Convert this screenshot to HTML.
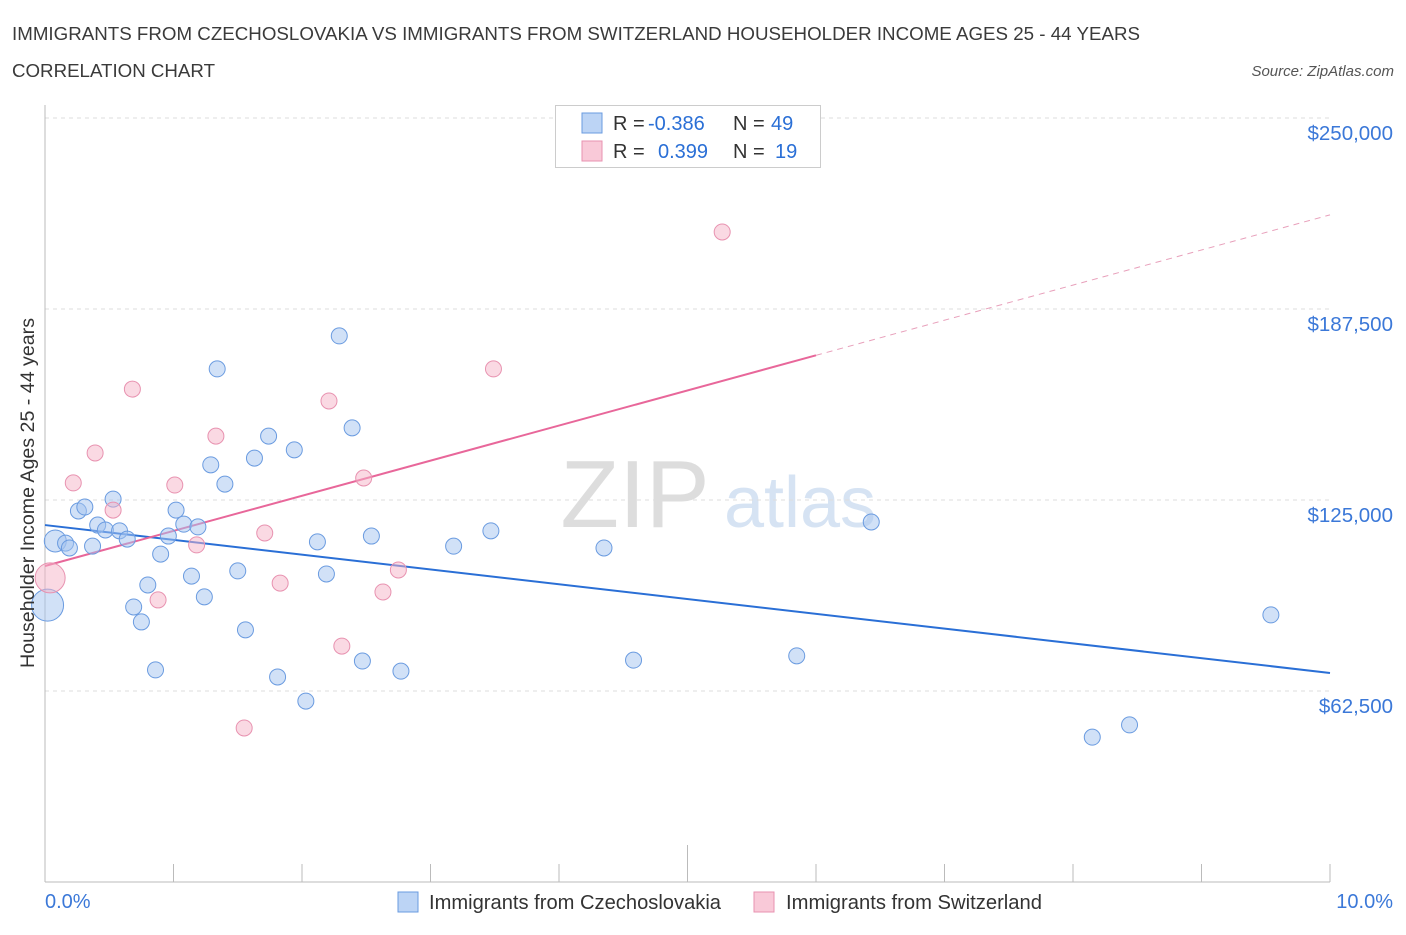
<!DOCTYPE html>
<html><head><meta charset="utf-8"><style>
body{margin:0;background:#fff;font-family:"Liberation Sans",sans-serif;}
svg text{font-family:"Liberation Sans",sans-serif;}
</style></head><body>
<svg id="chart" width="1406" height="930" xmlns="http://www.w3.org/2000/svg">
<text x="12" y="40" font-size="18.5" textLength="1128" lengthAdjust="spacingAndGlyphs" fill="#3a3a3a">IMMIGRANTS FROM CZECHOSLOVAKIA VS IMMIGRANTS FROM SWITZERLAND HOUSEHOLDER INCOME AGES 25 - 44 YEARS</text>
<text x="12" y="77" font-size="18.5" textLength="203" lengthAdjust="spacingAndGlyphs" fill="#3a3a3a">CORRELATION CHART</text>
<text x="1394" y="76" font-size="15" fill="#555" font-style="italic" text-anchor="end">Source: ZipAtlas.com</text>
<text x="635" y="527" font-size="96" fill="#ddd" font-family="Liberation Serif" text-anchor="middle">ZIP</text>
<text x="800" y="527" font-size="72" fill="#d6e3f3" text-anchor="middle">atlas</text>
<g id="grid"></g>
<g id="axes"></g>
<g id="lines"></g>
<g id="points"></g>
<text x="34" y="493" font-size="19" textLength="350" lengthAdjust="spacingAndGlyphs" fill="#333" text-anchor="middle" transform="rotate(-90 34 493)">Householder Income Ages 25 - 44 years</text>
<g>
<rect x="555.5" y="105.5" width="265" height="62" fill="#fff" stroke="#ccc"/>
<rect x="582" y="113" width="20" height="20" fill="#bcd4f5" stroke="#6a9be0"/>
<rect x="582" y="141" width="20" height="20" fill="#f9c9d8" stroke="#e892b0"/>
<text x="613" y="130" font-size="20" fill="#333">R =</text>
<text x="648" y="130" font-size="20" fill="#2a6fd6">-0.386</text>
<text x="733" y="130" font-size="20" fill="#333">N =</text>
<text x="771" y="130" font-size="20" fill="#2a6fd6">49</text>
<text x="613" y="158" font-size="20" fill="#333">R =</text>
<text x="658" y="158" font-size="20" fill="#2a6fd6">0.399</text>
<text x="733" y="158" font-size="20" fill="#333">N =</text>
<text x="775" y="158" font-size="20" fill="#2a6fd6">19</text>
</g>
<g>
<rect x="398" y="892" width="20" height="20" fill="#bcd4f5" stroke="#6a9be0"/>
<text x="429" y="909" font-size="20" textLength="292" lengthAdjust="spacingAndGlyphs" fill="#333">Immigrants from Czechoslovakia</text>
<rect x="754" y="892" width="20" height="20" fill="#f9c9d8" stroke="#e892b0"/>
<text x="786" y="909" font-size="20" textLength="256" lengthAdjust="spacingAndGlyphs" fill="#333">Immigrants from Switzerland</text>
</g>
</svg>
<script>
const yTicks=[62500,125000,187500,250000];
const yTickLabels=["$62,500","$125,000","$187,500","$250,000"];
const xTickLabels=["0.0%","10.0%"];
const blueX=[0.08,0.16,0.19,0.26,0.31,0.37,0.41,0.47,0.53,0.58,0.64,0.69,0.75,0.80,0.86,0.90,0.96,1.02,1.08,1.14,1.19,1.24,1.29,1.34,1.40,1.50,1.56,1.63,1.74,1.81,1.94,2.03,2.12,2.19,2.29,2.39,2.47,2.54,2.77,3.18,3.47,4.35,4.58,5.85,6.43,8.15,8.44,9.54,0.02];
const blueY=[111600,110900,109300,121400,122700,109900,116800,115200,125300,114900,112200,90000,85100,97200,69400,107300,113200,121700,117100,100100,116200,93300,136500,167900,130200,101800,82500,138700,145900,67100,141400,59200,111300,100800,178700,148600,72300,113200,69000,109900,114900,109300,72600,74000,117800,47400,51400,87400,90600];
const blueR=[11,8,8,8,8,8,8,8,8,8,8,8,8,8,8,8,8,8,8,8,8,8,8,8,8,8,8,8,8,8,8,8,8,8,8,8,8,8,8,8,8,8,8,8,8,8,8,8,16];
const pinkX=[0.04,0.22,0.39,0.53,0.68,0.88,1.01,1.18,1.33,1.55,1.71,1.83,2.21,2.31,2.48,2.63,2.75,3.49,5.27];
const pinkY=[99500,130600,140400,121700,161300,92300,129900,110300,145900,50400,114200,97800,157400,77200,132200,94900,102100,167900,212700];
const pinkR=[15,8,8,8,8,8,8,8,8,8,8,8,8,8,8,8,8,8,8];
const blueTrend=[116800,68400];
const pinkTrend=[103400,218300];
const pinkSolidEnd=6.0;
const NS="http://www.w3.org/2000/svg";
const xs=v=>45+v*128.5;
const ys=v=>882-v*(191/62500);
function mk(tag,attrs,parent){const e=document.createElementNS(NS,tag);for(const k in attrs)e.setAttribute(k,attrs[k]);document.getElementById(parent).appendChild(e);return e;}
yTicks.forEach((t,i)=>{
 const l=mk('line',{x1:45,x2:1330,y1:ys(t),y2:ys(t),stroke:'#ddd','stroke-dasharray':'4,4'},'grid');
 
 
 const tx=mk('text',{x:1393,y:ys(t)+22,'font-size':20.5,fill:'#3b78d8','text-anchor':'end'},'grid');
 tx.textContent=yTickLabels[i];
 
 
});
let a=mk('line',{x1:45,x2:45,y1:105,y2:882,stroke:'#bbb'},'axes');


a=mk('line',{x1:45,x2:1330,y1:882,y2:882,stroke:'#bbb'},'axes');


for(let i=0;i<=10;i++){
 const t=mk('line',{x1:xs(i),x2:xs(i),y1:(i==5?845:864),y2:882,stroke:'#bbb'},'axes');
 
 
}
[[0,'start',45],[10,'end',1393]].forEach((d,i)=>{
 const t=mk('text',{x:d[2],y:908,'font-size':20,fill:'#3b78d8','text-anchor':d[1]},'axes');
 t.textContent=xTickLabels[i];
 
 
});
blueX.forEach((x,i)=>{
 const c=mk('circle',{cx:xs(x),cy:ys(blueY[i]),r:blueR[i],fill:'rgba(164,196,240,0.5)',stroke:'#6a9be0','stroke-width':1},'points');
 
 
});
pinkX.forEach((x,i)=>{
 const c=mk('circle',{cx:xs(x),cy:ys(pinkY[i]),r:pinkR[i],fill:'rgba(245,180,200,0.5)',stroke:'#e892b0','stroke-width':1},'points');
 
 
});
let ln=mk('line',{x1:xs(0),y1:ys(blueTrend[0]),x2:xs(10),y2:ys(blueTrend[1]),stroke:'#2a6fd6','stroke-width':2},'lines');


const pAt=x=>pinkTrend[0]+(pinkTrend[1]-pinkTrend[0])*x/10;
ln=mk('line',{x1:xs(0),y1:ys(pinkTrend[0]),x2:xs(pinkSolidEnd),y2:ys(pAt(pinkSolidEnd)),stroke:'#e8679a','stroke-width':2},'lines');


ln=mk('line',{x1:xs(pinkSolidEnd),y1:ys(pAt(pinkSolidEnd)),x2:xs(10),y2:ys(pinkTrend[1]),stroke:'#e8a0bb','stroke-width':1,'stroke-dasharray':'6,5'},'lines');


</script>
</body></html>
